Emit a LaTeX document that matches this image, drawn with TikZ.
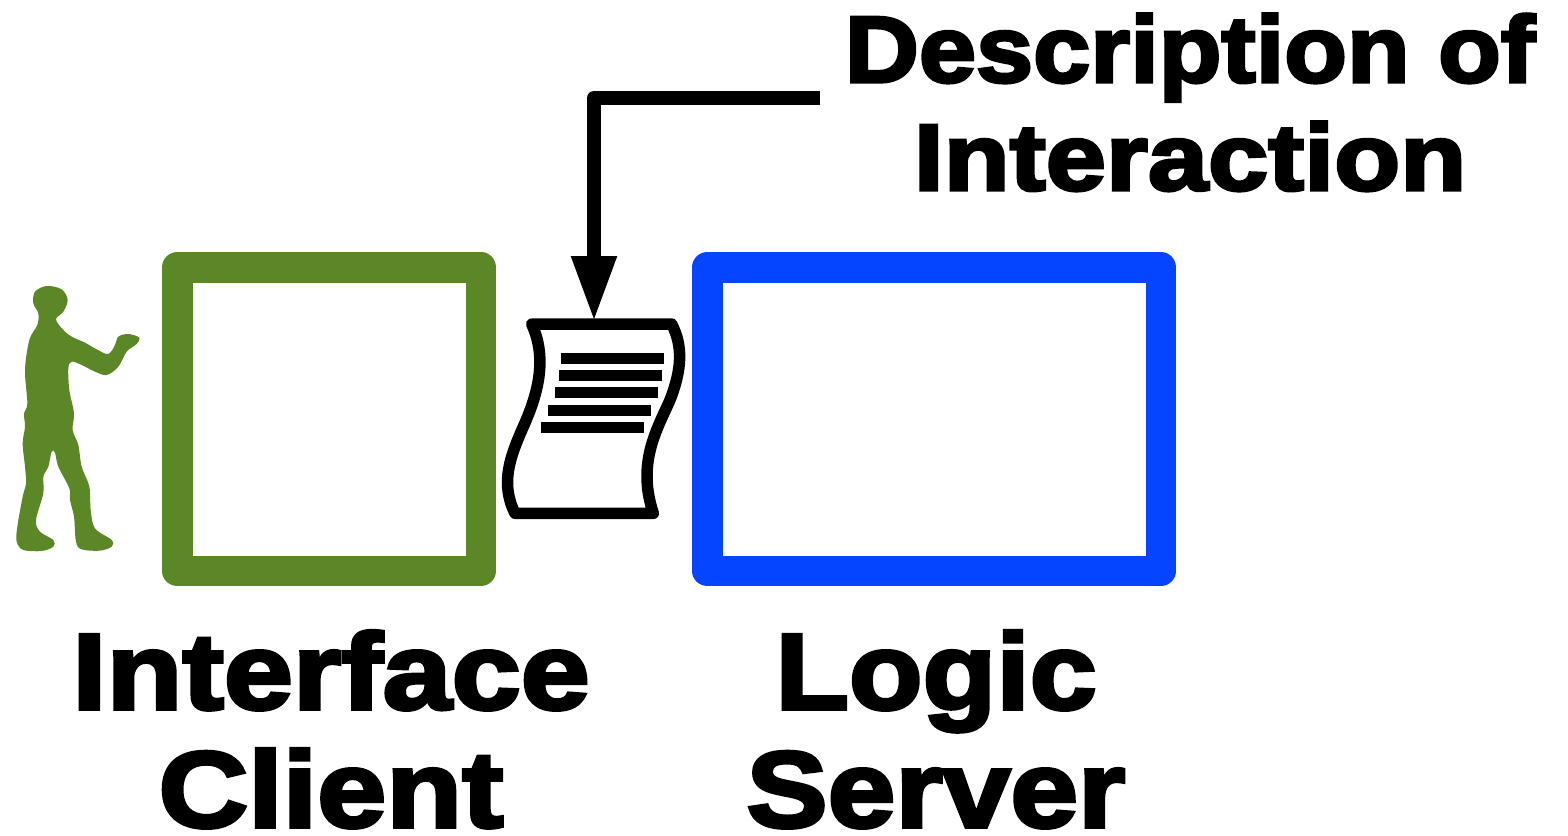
\documentclass[tikz,border=0pt]{standalone}
\usepackage{fontspec}
\usepackage{graphicx}
\usetikzlibrary{positioning}
\usetikzlibrary{arrows.meta}
\newfontfamily\labelfont{Liberation Sans}[BoldFeatures={FakeBold=3.5,FakeStretch=1.15}]
\definecolor{client-green}{HTML}{5B8726}
\definecolor{server-blue}{HTML}{0645FF}
\tikzset{
  tier/.style={draw,rectangle,line width=15.25pt,line join=round,inner sep=0pt,outer sep=0pt},
  tierlabel/.style={font=\labelfont\bfseries\fontsize{54}{59}\selectfont,align=center,anchor=base,inner sep=0pt},
  toplabel/.style={font=\labelfont\bfseries\fontsize{47}{54}\selectfont,align=center,anchor=base,inner sep=0pt},
  docline/.style={line width=5.5pt},
}
\begin{document}
\begin{tikzpicture}[x=0.5pt,y=-0.5pt]
\useasboundingbox (0,0) rectangle (1568,835);
% tiers
\node[tier,draw=client-green,minimum width=151.75pt,minimum height=151.75pt] (client) at (329,419) {};
\node[tier,draw=server-blue,minimum width=226.75pt,minimum height=151.75pt] (server) at (934,419) {};
% user
\begin{scope}[shift={(0,270)},scale=1/3]
\fill[client-green] plot[smooth cycle,tension=0.55] coordinates {
  (140,48) (185,58) (203,90) (190,125) (168,148) (190,180) (215,200) (255,218)
  (290,238) (325,252) (345,225) (355,200) (385,192) (418,203) (410,222) (380,245)
  (355,290) (320,315) (285,305) (245,285) (215,275) (205,295) (208,360) (222,430)
  (218,480) (235,525) (245,590) (268,650) (272,720) (285,775) (335,810) (335,830)
  (300,842) (245,838) (228,815) (222,740) (210,690) (208,655) (175,590) (165,548)
  (155,545) (145,590) (130,620) (130,670) (108,750) (120,785) (160,810) (160,830)
  (125,843) (70,840) (50,815) (52,770) (68,680) (78,640) (75,590) (68,520)
  (75,470) (72,430) (82,400) (75,300) (88,210) (112,165) (115,130) (100,100) (105,65)};
\end{scope}
% document
\begin{scope}[shift={(490,240)},scale=1/3]
\draw[line width=5.75pt,line join=round]
  (125,252) -- (545,252)
  .. controls (580,320) and (575,390) .. (540,480)
  .. controls (500,570) and (440,670) .. (490,820)
  -- (75,820)
  .. controls (30,730) and (60,650) .. (100,560)
  .. controls (140,470) and (175,360) .. cycle;
\end{scope}
\foreach \lineleft/\liney in {561/358,559/375,555/392,548/410,541/427} {
  \draw[docline] (\lineleft,\liney) -- (\lineleft+103,\liney);
}
% labels
\node[tierlabel] (clientlabel) at (331,827) {Interface\\Client};
\node[tierlabel] (serverlabel) at (936,827) {\scalebox{0.97}[1]{Logic}\\\scalebox{0.98}[1]{Server}};
\node[toplabel] (desclabel) at (1190,190) {\scalebox{0.95}[1]{Description of}\\Interaction};
% arrow
\coordinate (descend) at (820,98);
\coordinate (doctop) at (594,322);
\draw[line width=7pt,line join=round,-{Triangle[length=33pt,width=21pt]}] (descend) -| (doctop);
\end{tikzpicture}
\end{document}
